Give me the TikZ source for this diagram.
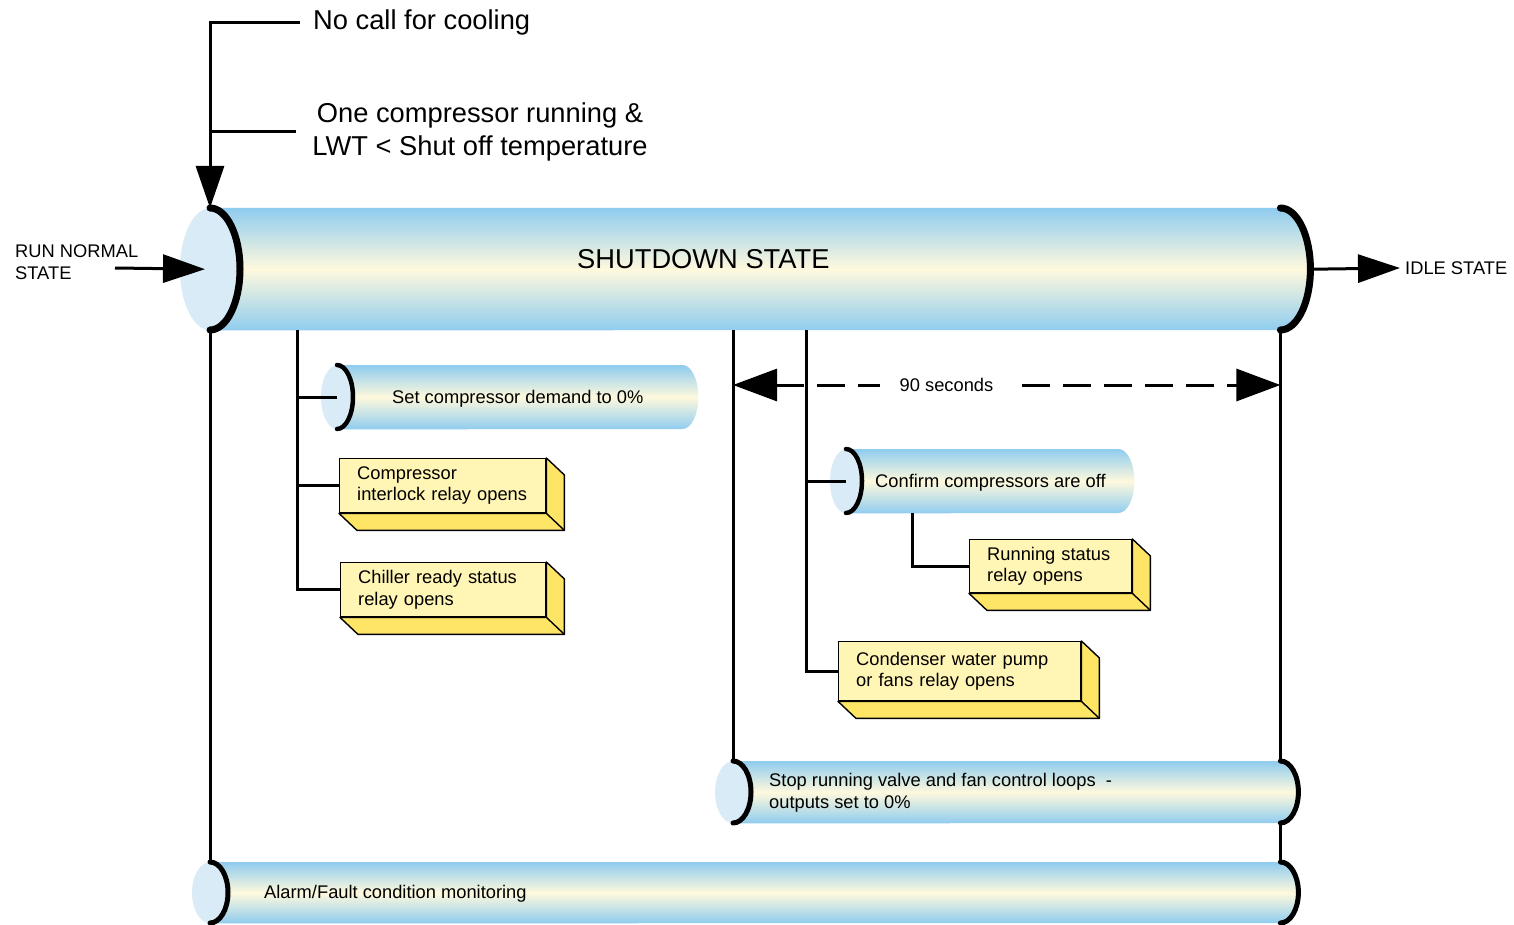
\documentclass[tikz,border=0pt]{standalone}
\usepackage{fontspec}
\setmainfont{Liberation Sans}
\usetikzlibrary{positioning,arrows.meta,calc}
\definecolor{pipeblue}{HTML}{8FCCEF}
\definecolor{pipecream}{HTML}{FFF9DD}
\definecolor{pipeface}{HTML}{D9EBF6}
\definecolor{relayfront}{HTML}{FFF5B5}
\definecolor{relayside}{HTML}{FFE566}

\begin{document}
\begin{tikzpicture}[x=1pt,y=-1pt,
  txt/.style={font=\fontsize{18.3}{21.5}\selectfont,inner sep=0pt},
  big/.style={font=\fontsize{27.3}{33}\selectfont,inner sep=0pt},
  pipe/.style={inner sep=0pt,anchor=north west},
  pipeshade/.style={top color=pipeblue,bottom color=pipeblue,middle color=pipecream},
  relay/.style={txt,draw,line width=1.4pt,fill=relayfront,anchor=north west,align=left,inner xsep=17.5pt},
  wire/.style={line width=3pt},
  arr/.style={wire,-{Triangle[length=42pt,width=28pt]}},
  dim/.style={wire,dash pattern=on 28pt off 13pt,{Triangle[length=44pt,width=32pt]}-{Triangle[length=44pt,width=32pt]}}]
\useasboundingbox (0,0) rectangle (1514,925);

% cylinder bodies
\node[pipe,minimum width=1070pt,minimum height=122pt] (shut) at (210,208) {};
\node[pipe,minimum width=345pt,minimum height=64pt] (demand) at (337,365) {};
\node[pipe,minimum width=272pt,minimum height=64pt] (confirm) at (846,449) {};
\node[pipe,minimum width=547pt,minimum height=62pt] (stoploop) at (733,761) {};
\node[pipe,minimum width=1070pt,minimum height=61pt] (alarm) at (210,862) {};
\foreach \c/\rx/\ry/\lw in {shut/30pt/61pt/7pt,demand/16pt/32pt/4.5pt,confirm/16pt/32pt/4.5pt,stoploop/18pt/31pt/5pt,alarm/18pt/30.5pt/5pt}{
  \shade[pipeshade] (\c.north west) -- (\c.north east) arc[start angle=90,end angle=-90,x radius=\rx,y radius=\ry] -- (\c.south west) -- cycle;
  \fill[pipeface] (\c.west) ellipse[x radius=\rx,y radius=\ry];
  \draw[line width=\lw,line cap=round] (\c.north west) arc[start angle=90,end angle=-90,x radius=\rx,y radius=\ry];
}
\foreach \c/\rx/\ry/\lw in {shut/30pt/61pt/7pt,stoploop/18pt/31pt/5pt,alarm/18pt/30.5pt/5pt}
  \draw[line width=\lw,line cap=round] (\c.north east) arc[start angle=90,end angle=-90,x radius=\rx,y radius=\ry];

% relay boxes
\node[relay,text width=171pt,minimum height=54pt] (interlock) at (339,458) {Compressor\\interlock relay opens};
\node[relay,text width=170pt,minimum height=54pt] (ready) at (340,562) {Chiller ready status\\relay opens};
\node[relay,text width=127pt,minimum height=53pt] (running) at (969,539) {Running status\\relay opens};
\node[relay,text width=207pt,minimum height=59pt] (pump) at (838,641) {Condenser water pump\\or fans relay opens};
\foreach \b in {interlock,ready,running,pump}{
  \filldraw[fill=relayside,line width=1.4pt,line join=round] (\b.north east) -- ++(18,17) -- ($(\b.south east)+(18,17)$) -- ($(\b.south west)+(18,17)$) -- (\b.south west) -- (\b.south east) -- cycle;
  \draw[line width=1.4pt] (\b.south east) -- ++(18,17);
}

% texts
\node[big,anchor=base west] (shuttxt) at (577,269) {SHUTDOWN STATE};
\node[txt,anchor=base west] (demandtxt) at (392,403) {Set compressor demand to 0\%};
\node[txt,anchor=base west] (confirmtxt) at (875,487.5) {Confirm compressors are off};
\node[txt,anchor=west,align=left] (stoptxt) at (769,793) {Stop running valve and fan control loops\ \ -\\outputs set to 0\%};
\node[txt,anchor=base west] (alarmtxt) at (264,898.5) {Alarm/Fault condition monitoring};
\node[big,anchor=base west,inner xsep=13pt] (nocall) at (300,29.5) {No call for cooling};
\node[big,align=center,inner xsep=16pt] (onecomp) at (480,132) {One compressor running \&\\LWT < Shut off temperature};
\node[txt,anchor=west,align=left] (runnormal) at (15,262) {RUN NORMAL\\STATE};
\node[txt,anchor=west,inner xsep=5pt] (idle) at (1400,268) {IDLE STATE};
\coordinate (runin) at (115,268);
\coordinate (shutrim) at ($(shut.east)+(33,0)$);
\coordinate (dimy) at (0,385);

% entry and exit
\draw[arr] (nocall.west) -| (shut.north west);
\draw[wire] (onecomp.west) -- (onecomp.west -| shut.north west);
\draw[arr] (runin) -- ([xshift=-5pt]shut.west);
\draw[arr] (shutrim) -- (idle.west);

% branches
\draw[wire] (shut.south west) -- (alarm.north west);
\coordinate (spinea) at ($(shut.south west)+(87,0)$);
\draw[wire] (spinea) |- (ready.west);
\draw[wire] (spinea |- demand.west) -- (demand.west);
\draw[wire] (spinea |- interlock.west) -- (interlock.west);
\draw[wire] (stoploop.north west |- shut.south) -- (stoploop.north west);
\coordinate (spineb) at ($(shut.south west)+(596,0)$);
\draw[wire] (spineb) |- (pump.west);
\draw[wire] (spineb |- confirm.west) -- (confirm.west);
\draw[wire] ($(confirm.south west)+(66,0)$) |- (running.west);
\draw[wire] (shut.south east) -- (stoploop.north east);
\draw[wire] (stoploop.south east) -- (alarm.north east);
\draw[dim] (stoploop.north west |- dimy) -- node[txt,pos=0.39,fill=white,inner xsep=20pt,inner ysep=4pt] (secs) {90 seconds} (stoploop.north east |- dimy);
\end{tikzpicture}
\end{document}
